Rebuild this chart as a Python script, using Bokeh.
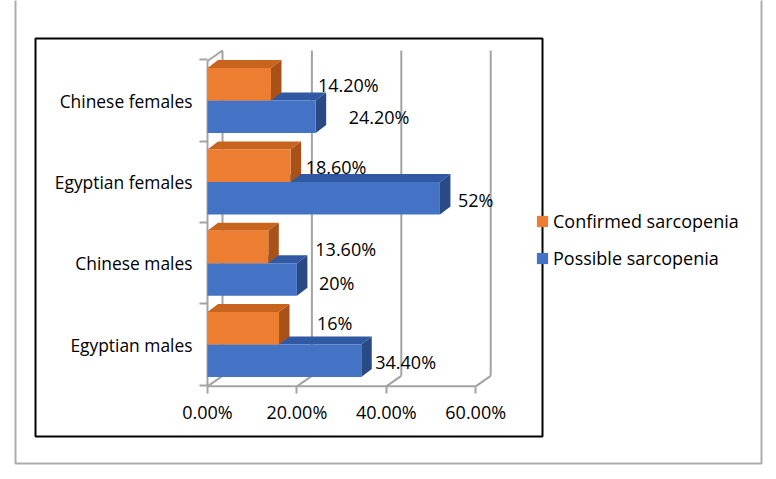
from bokeh.plotting import figure
from bokeh.models import Range1d, FixedTicker, BoxAnnotation, Legend, LegendItem, ColumnDataSource
from bokeh.embed import file_html
from bokeh.resources import INLINE
from bokeh.core.properties import value

# ---------------- data ----------------
categories = ["Egyptian males", "Chinese males", "Egyptian females", "Chinese females"]
possible = [34.4, 20.0, 52.0, 24.2]
confirmed = [16.0, 13.6, 18.6, 14.2]
possible_labels = ["34.40%", "20%", "52%", "24.20%"]
confirmed_labels = ["16%", "13.60%", "18.60%", "14.20%"]
x_ticks = [0, 20, 40, 60]
x_tick_labels = ["0.00%", "20.00%", "40.00%", "60.00%"]
series_names = ["Confirmed sarcopenia", "Possible sarcopenia"]

# label nudges (screen px) as placed in the original chart
confirmed_label_dx = [38, 47, 15, 47]
confirmed_label_dy = [-5, 2, 1.5, 1]
possible_label_dx = [14, 22, 18, 33]
possible_label_dy = [1.5, 3.5, 1.5, 0.5]

# ---------------- style ----------------
FONT = "Open Sans"
FS = "18px"
ORANGE, ORANGE_TOP, ORANGE_SIDE = "#ED7D31", "#C9641F", "#A8521A"
BLUE, BLUE_TOP, BLUE_SIDE = "#4472C4", "#3159A3", "#2A4A86"
GRID = "#A3A3A3"
W, H = 776, 479
X0, Y0 = 207.0, 344.0    # screen position of 0 % / first category centre
PX_X = 4.47              # px per percent
PX_Y = 81.3              # px per category
BAR_H = 0.40
DX, DY = 10.5 / PX_X, 8.0 / PX_Y          # bar depth
WX, WY = 15.0 / PX_X, 10.5 / PX_Y         # wall depth
FLOOR, WALL_TOP = -0.515, 3.487

p = figure(width=W, height=H, output_backend="svg", toolbar_location=None,
           x_range=Range1d(-X0 / PX_X, (W - X0) / PX_X),
           y_range=Range1d((Y0 - H) / PX_Y, Y0 / PX_Y),
           min_border_left=0, min_border_right=0, min_border_top=0, min_border_bottom=0)
p.outline_line_color = None
p.xgrid.visible = False
p.ygrid.visible = False
p.background_fill_color = "white"
p.border_fill_color = "white"

# ---------------- walls / floor ----------------
xs, ys = [], []
for t in x_ticks:
    xs.append([t + WX, t + WX]); ys.append([FLOOR + WY, WALL_TOP + WY])
    xs.append([t, t + WX]); ys.append([FLOOR, FLOOR + WY])
xs.append([x_ticks[0], x_ticks[-1]]); ys.append([FLOOR, FLOOR])
xs.append([0, 0]); ys.append([FLOOR, WALL_TOP])
xs.append([0, WX]); ys.append([WALL_TOP, WALL_TOP + WY])
p.multi_line(xs=xs, ys=ys, line_color=GRID, line_width=2)

ypos = list(range(len(categories)))


def draw_bars(vals, bottoms, front, top_c, side_c):
    tx, ty, sx, sy = [], [], [], []
    for v, b in zip(vals, bottoms):
        t = b + BAR_H
        tx.append([0, v, v + DX, DX]); ty.append([t, t, t + DY, t + DY])
        sx.append([v, v + DX, v + DX, v]); sy.append([b, b + DY, t + DY, t])
    p.patches(xs=tx, ys=ty, fill_color=top_c, line_color=None)
    p.patches(xs=sx, ys=sy, fill_color=side_c, line_color=None)
    return p.hbar(y=[b + BAR_H / 2 for b in bottoms], left=0, right=vals,
                  height=BAR_H, fill_color=front, line_color=None)


r_pos = draw_bars(possible, [y - BAR_H for y in ypos], BLUE, BLUE_TOP, BLUE_SIDE)
r_conf = draw_bars(confirmed, ypos, ORANGE, ORANGE_TOP, ORANGE_SIDE)

# ---------------- data labels ----------------
src_c = ColumnDataSource(dict(x=confirmed, y=[y + BAR_H / 2 for y in ypos], t=confirmed_labels,
                              dx=confirmed_label_dx, dy=confirmed_label_dy))
src_p = ColumnDataSource(dict(x=possible, y=[y - BAR_H / 2 for y in ypos], t=possible_labels,
                              dx=possible_label_dx, dy=possible_label_dy))
for s in (src_c, src_p):
    p.text(x="x", y="y", text="t", x_offset="dx", y_offset="dy", source=s,
           text_font=value(FONT), text_font_size=FS, text_color="black",
           text_align="left", text_baseline="middle")

# ---------------- axes (fixed inside the plotting area) ----------------
ax = p.xaxis[0]
ax.fixed_location = FLOOR
ax.ticker = FixedTicker(ticks=x_ticks, minor_ticks=[])
ax.major_label_overrides = {t: l for t, l in zip(x_ticks, x_tick_labels)}
ax.axis_line_color = None
ax.major_tick_line_color = GRID
ax.major_tick_line_width = 2
ax.major_tick_out = 7
ax.major_tick_in = 0
ax.major_label_standoff = 7
ax.major_label_text_font = FONT
ax.major_label_text_font_size = FS
ax.major_label_text_color = "black"

ay = p.yaxis[0]
ay.fixed_location = 0
ay.ticker = FixedTicker(ticks=ypos, minor_ticks=[y - 0.5 for y in ypos] + [ypos[-1] + 0.5])
ay.major_label_overrides = {y: c for y, c in zip(ypos, categories)}
ay.axis_line_color = None
ay.major_tick_line_color = None
ay.major_tick_out = 8
ay.major_tick_in = 0
ay.minor_tick_line_color = GRID
ay.minor_tick_line_width = 2
ay.minor_tick_out = 8
ay.minor_tick_in = 0
ay.major_label_standoff = 7
ay.major_label_text_font = FONT
ay.major_label_text_font_size = "17.4px"
ay.major_label_text_color = "black"

# ---------------- frames ----------------
p.add_layout(BoxAnnotation(left=15, right=761, top=-20, bottom=463,
                           left_units="canvas", right_units="canvas",
                           top_units="canvas", bottom_units="canvas",
                           fill_color=None, fill_alpha=0, line_color="#ADADAD",
                           line_alpha=1.0, line_width=2))
p.add_layout(BoxAnnotation(left=35, right=542, top=38, bottom=436,
                           left_units="canvas", right_units="canvas",
                           top_units="canvas", bottom_units="canvas",
                           fill_color=None, fill_alpha=0, line_color="black",
                           line_alpha=1.0, line_width=2))

# ---------------- legend ----------------
legend = Legend(items=[LegendItem(label=series_names[0], renderers=[r_conf]),
                       LegendItem(label=series_names[1], renderers=[r_pos])],
                location=(535, 209), margin=0, padding=0, spacing=13,
                glyph_width=14, glyph_height=14, label_standoff=4, label_height=20,
                border_line_color=None, background_fill_color=None,
                label_text_font=FONT, label_text_font_size=FS, label_text_color="black")
p.add_layout(legend)

open("out.html", "w").write(file_html(p, INLINE))
